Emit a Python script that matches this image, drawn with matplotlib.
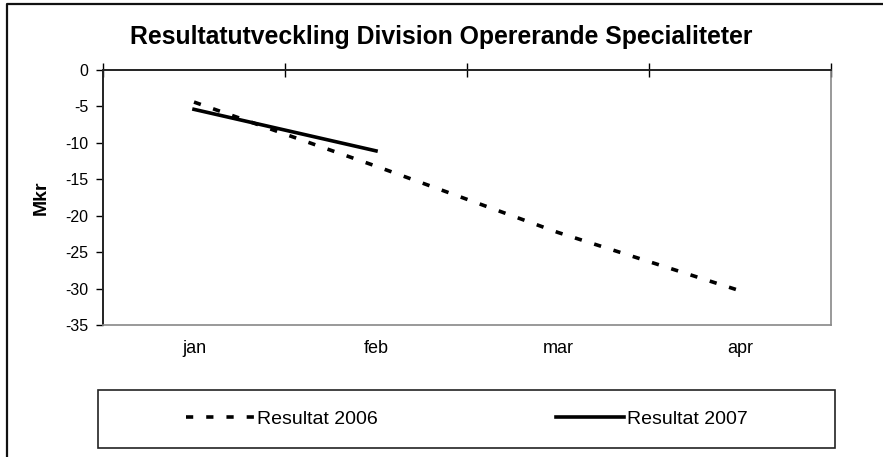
import matplotlib
matplotlib.use('Agg')
import matplotlib.pyplot as plt
from matplotlib.lines import Line2D
from matplotlib.patches import Rectangle

plt.rcParams['font.family'] = ['Liberation Sans', 'DejaVu Sans']
plt.rcParams['axes.unicode_minus'] = False

# data
months = ['jan', 'feb', 'mar', 'apr']
res2006 = [-4.4, -13.2, -22.3, -30.3]
res2007 = [-5.4, -11.1]
yticks = [0, -5, -10, -15, -20, -25, -30, -35]

W, H = 883, 457
fig = plt.figure(figsize=(W / 100, H / 100), dpi=100)

# plot area (pixel box 103..831 x 70..325)
ax = fig.add_axes([103 / W, 1 - 325 / H, (831 - 103) / W, (325 - 70) / H])

x06 = list(range(len(res2006)))
x07 = list(range(len(res2007)))
l06, = ax.plot(x06, res2006, color='black', lw=2.6, linestyle=(0, (2, 3.6)),
               dash_capstyle='butt', label='Resultat 2006')
l07, = ax.plot(x07, res2007, color='black', lw=2.6, label='Resultat 2007')

ax.set_xlim(-0.5, 3.5)
ax.set_ylim(-35, 0)
ax.set_yticks(yticks)
ax.set_yticklabels([str(v) for v in yticks], fontsize=11.5)
ax.tick_params(axis='y', direction='out', length=5, width=1, pad=5.5, color='black')

# category labels at the bottom, tick marks on the zero line (top)
ax.set_xticks(range(len(months)))
ax.set_xticklabels(months, fontsize=13)
ax.tick_params(axis='x', which='major', length=0, pad=11)
ax.set_xticks([i - 0.5 for i in range(len(months) + 1)], minor=True)
ax.tick_params(axis='x', which='minor', bottom=False, top=True,
               direction='inout', length=10, width=1, color='black')

for side in ['left', 'top']:
    ax.spines[side].set_color('#222222')
    ax.spines[side].set_linewidth(1.4)
for side in ['right', 'bottom']:
    ax.spines[side].set_color('#888888')
    ax.spines[side].set_linewidth(1.2)

ax.set_ylabel('Mkr', fontsize=14, fontweight='bold')
ax.yaxis.set_label_coords((50 - 103) / 728, 0.5)

fig.text(441 / W, 1 - 37 / H, 'Resultatutveckling Division Opererande Specialiteter',
         ha='center', va='center', fontsize=17.8, fontweight='bold')

# legend box
fig.patches.append(Rectangle((98 / W, 1 - 448 / H), (835 - 98) / W, 58 / H,
                             transform=fig.transFigure, fill=False,
                             edgecolor='#222222', lw=1.2))
fig.legend(handles=[l06, l07], loc='center', ncol=2, frameon=False,
           bbox_to_anchor=(467 / W, 1 - 419 / H), fontsize=14,
           handlelength=3.5, handletextpad=0.15, columnspacing=9.2)

# outer chart border (left and top only visible)
fig.lines.append(Line2D([7 / W, 7 / W, 1.0], [0.0, 1 - 4 / H, 1 - 4 / H],
                        transform=fig.transFigure, color='#111111', lw=1.6))

fig.savefig('out.png', dpi=100, facecolor='white')
